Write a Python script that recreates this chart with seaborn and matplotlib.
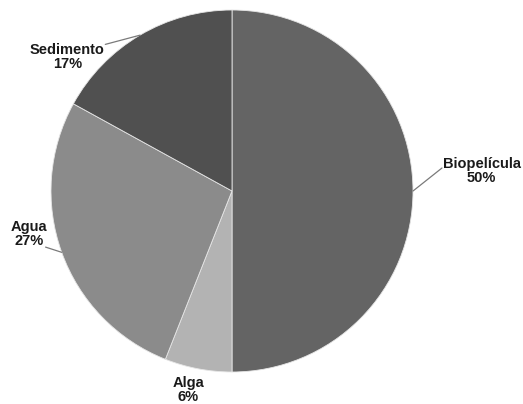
import numpy as np
import matplotlib
matplotlib.use("Agg")
import matplotlib.pyplot as plt
import seaborn as sns

# data
categories = ["Biopelícula", "Alga", "Agua", "Sedimento"]
shares = [50, 6, 27, 17]
colors = ["#646464", "#b3b3b3", "#8b8b8b", "#505050"]

# label placement (data units, pie radius = 1)
text_pos = {"Biopelícula": (1.38, 0.11), "Alga": (-0.24, -1.10),
            "Agua": (-1.12, -0.24), "Sedimento": (-0.91, 0.74)}
line_end = {"Biopelícula": (1.16, 0.127), "Agua": (-1.03, -0.31),
            "Sedimento": (-0.70, 0.81)}

sns.set_theme(style="white")
plt.rcParams['font.family'] = ['Liberation Sans', 'DejaVu Sans']

fig = plt.figure(figsize=(5.23, 4.04), dpi=100)
ax = fig.add_axes([51 / 523, 32 / 404, 362 / 523, 362 / 404])

wedges, _ = ax.pie(shares, colors=colors, startangle=90, counterclock=False,
                   wedgeprops=dict(edgecolor="#e6e6e6", linewidth=0.6))
ax.set_xlim(-1, 1)
ax.set_ylim(-1, 1)
ax.axis("off")

for w, name, val in zip(wedges, categories, shares):
    mid = np.deg2rad((w.theta1 + w.theta2) / 2)
    edge = (np.cos(mid), np.sin(mid))
    if name in line_end:
        ex, ey = line_end[name]
        ax.plot([edge[0], ex], [edge[1], ey], color="#7a7a7a", lw=0.9,
                clip_on=False)
    tx, ty = text_pos[name]
    ax.text(tx, ty, f"{name}\n{val}%", ha="center", va="center",
            fontsize=10.5, fontweight="bold", color="#1a1a1a",
            linespacing=1.0, clip_on=False)

fig.savefig("out.png", dpi=100)
